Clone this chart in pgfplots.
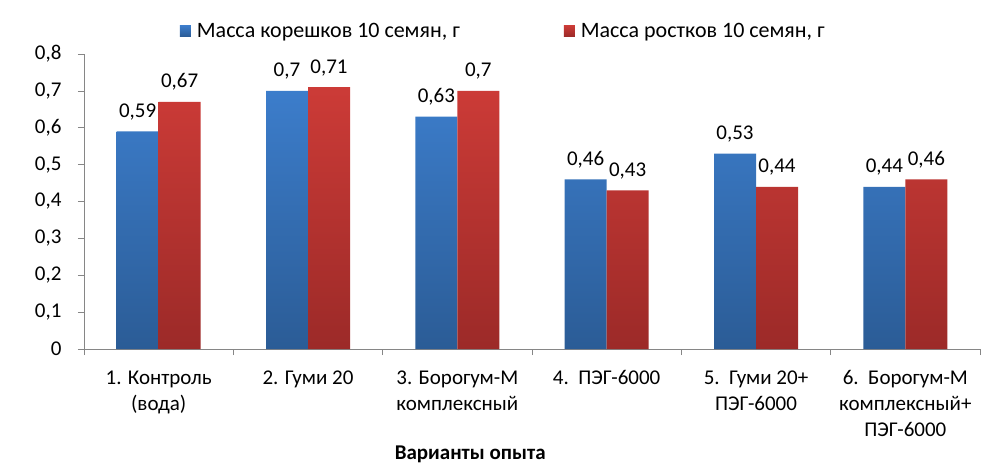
\documentclass[border=0pt]{standalone}
\usepackage{pgfplots}
\pgfplotsset{compat=1.18}
\usepackage{fontspec}
\setmainfont{Carlito}
\pgfkeys{/pgf/number format/assume math mode=true}
\definecolor{bluetop}{HTML}{3C7DCB}
\definecolor{bluebot}{HTML}{2B5C96}
\definecolor{redtop}{HTML}{CC3B37}
\definecolor{redbot}{HTML}{9C2A28}
\definecolor{axgray}{HTML}{868686}
\begin{document}
\begin{tikzpicture}
\useasboundingbox (0pt,0pt) rectangle (1002pt,475pt);
\begin{axis}[
  at={(84pt,126pt)}, anchor=south west,
  scale only axis, width=896pt, height=295pt,
  xmin=0, xmax=6, ymin=0, ymax=0.8,
  axis lines*=left,
  axis line style={-, draw=axgray},
  tick style={draw=axgray, line width=0.6pt},
  tick align=outside, major tick length=6pt,
  font=\fontsize{21}{26}\selectfont,
  /pgf/number format/use comma,
  ytick={0,0.1,0.2,0.3,0.4,0.5,0.6,0.7,0.8},
  yticklabel style={anchor=east, xshift=-13pt, font=\fontsize{21}{26}\selectfont},
  xtick={0,1,2,3,4,5,6},
  xticklabels={{1. Контроль\\(вода)},{2. Гуми 20},{3. Борогум-М\\комплексный},{4.\ \ ПЭГ-6000},{5.\ \ Гуми 20+\\ПЭГ-6000},{6.\ \ Борогум-М\\комплексный+\\ПЭГ-6000},{}},
  xticklabel style={align=center, xshift=74.667pt, anchor=north, yshift=-12pt, font=\fontsize{21}{26}\selectfont},
  ybar=0pt, bar width=42pt,
  nodes near coords,
  nodes near coords style={anchor=base, yshift=14pt, text=black, font=\fontsize{21}{25}\selectfont},
  xlabel={Варианты опыта},
  xlabel style={at={(axis description cs:0.431,0)}, anchor=base, yshift=-110pt, font=\fontsize{21}{25}\selectfont\bfseries},
  legend columns=2,
  legend style={draw=none, at={(axis description cs:0.468,1.078)}, anchor=center,
    font=\fontsize{22}{25}\selectfont,
    /tikz/every even column/.append style={column sep=102pt}},
  legend image code/.code={\path (0pt,0pt) -- (15pt,0pt); \path[#1, draw=none] (0pt,-5.5pt) rectangle (11pt,5.5pt);},
]
\addplot[draw=none, top color=bluetop, bottom color=bluebot] coordinates {(0.5,0.59) (1.5,0.7) (2.5,0.63) (3.5,0.46) (4.5,0.53) (5.5,0.44)};
\addplot[draw=none, top color=redtop, bottom color=redbot] coordinates {(0.5,0.67) (1.5,0.71) (2.5,0.7) (3.5,0.43) (4.5,0.44) (5.5,0.46)};
\legend{{Масса корешков 10 семян, г},{Масса ростков 10 семян, г}}
\end{axis}
\end{tikzpicture}
\end{document}
